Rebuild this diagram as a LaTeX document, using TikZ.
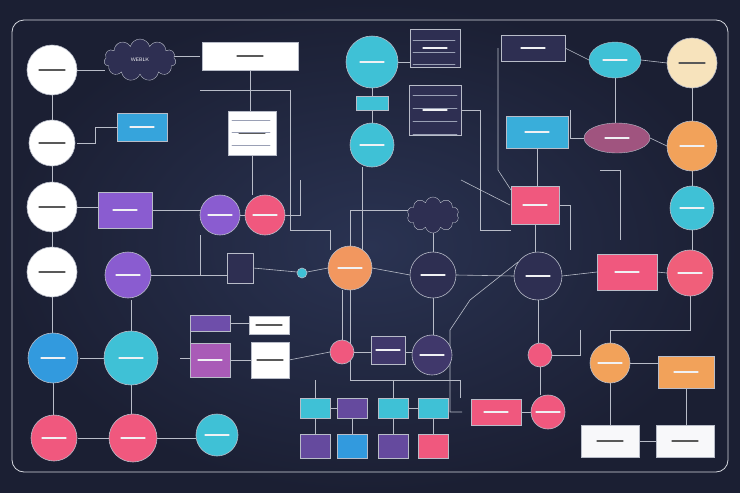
\documentclass[tikz,border=0pt]{standalone}
\usetikzlibrary{shapes.geometric,shapes.symbols,calc}
\definecolor{bg}{HTML}{1B1F33}
\definecolor{bgc}{HTML}{2A3352}
\definecolor{tl}{HTML}{3FC1D6}
\definecolor{pk}{HTML}{F0587E}
\definecolor{pu}{HTML}{8A5CD0}
\definecolor{dk}{HTML}{2E2F52}
\definecolor{og}{HTML}{F2A25A}
\definecolor{cr}{HTML}{F7E3BC}
\definecolor{mv}{HTML}{A0547F}
\definecolor{ln}{HTML}{B8BCC8}
\definecolor{tc}{HTML}{9AA0B5}
\begin{document}
\begin{tikzpicture}[x=1pt,y=-1pt,
 circ/.style={circle,draw=ln,line width=0.6pt,inner sep=0,minimum size=#1},
 box/.style={rectangle,draw=ln,line width=0.5pt,inner sep=0},
 cn/.style={draw=ln,line width=0.6pt},
 tb/.style={line width=1.2pt,line cap=round}]
\useasboundingbox (0,0) rectangle (740,493);
\fill[bg] (0,0) rectangle (740,493);
\fill[inner color=bgc,outer color=bg] (0,0) rectangle (740,493);
\draw[ln!60,line width=0.8pt,rounded corners=12] (12,20) rectangle (728,472);
% connectors (drawn first)
\begin{scope}[cn]
\draw (77,70)--(105,70); \draw (52,95)--(52,120); \draw (52,166)--(52,182);
\draw (52,232)--(52,247); \draw (52,297)--(52,333); \draw (53,383)--(53,415);
\draw (77,207)--(98,207); \draw (77,143)--(95,143)--(95,127)--(117,127);
\draw (152,210)--(200,210); \draw (151,275)--(200,275)--(200,235);
\draw (240,215)--(245,215); \draw (285,215)--(300,215)--(300,180);
\draw (250,70)--(250,111); \draw (200,56)--(160,56);
\draw (200,90)--(290,90)--(290,230)--(330,230)--(330,250);
\draw (252,155)--(252,195); \draw (80,358)--(104,358);
\draw (131,385)--(131,414); \draw (78,438)--(109,438); \draw (157,438)--(196,438);
\draw (131,331)--(131,300); \draw (180,358)--(190,358)--(190,323);
\draw (230,323)--(249,323); \draw (230,360)--(251,360);
\draw (289,360)--(330,352); \draw (170,275)--(228,275); \draw (253,268)--(297,272);
\draw (307,272)--(328,268);
\draw (372,88)--(372,96); \draw (372,110)--(372,123);
\draw (362,167)--(362,250); \draw (398,62)--(410,62);
\draw (350,246)--(350,210)--(408,210);
\draw (372,268)--(410,275); \draw (456,275)--(514,276);
\draw (433,233)--(433,252); \draw (433,298)--(433,335);
\draw (342,290)--(342,340); \draw (354,352)--(371,352); \draw (405,352)--(412,352);
\draw (350,290)--(350,380)--(460,380)--(460,398); \draw (315,380)--(315,398);
\draw (393,380)--(393,398); \draw (315,418)--(315,434); \draw (352,418)--(352,434);
\draw (393,418)--(393,434); \draw (433,418)--(433,434);
\draw (330,408)--(337,408); \draw (408,408)--(418,408);
\draw (461,110)--(480,110)--(480,230)--(511,230);
\draw (461,180)--(510,205); \draw (498,48)--(498,170)--(511,190);
\draw (538,300)--(538,343); \draw (552,355)--(580,355)--(580,330);
\draw (540,367)--(540,395); \draw (521,412)--(531,412);
\draw (462,412)--(450,412)--(450,330)--(470,300)--(518,262);
\draw (535,224)--(535,252); \draw (559,205)--(570,205)--(570,250);
\draw (537,148)--(537,186); \draw (565,48)--(589,60);
\draw (641,60)--(667,63); \draw (615,78)--(615,123);
\draw (650,138)--(667,146); \draw (692,88)--(692,121);
\draw (692,171)--(692,186); \draw (692,230)--(692,250);
\draw (562,276)--(597,272); \draw (657,272)--(667,273);
\draw (690,296)--(690,330)--(610,330)--(610,343);
\draw (630,363)--(658,363); \draw (610,383)--(610,425);
\draw (639,441)--(656,441); \draw (686,388)--(686,425);
\draw (600,170)--(620,170)--(620,240); \draw (584,138)--(570,138)--(570,110);
\end{scope}
% shapes
\node[circ=50,fill=white] (w1) at (52,70) {};
\node[circ=46,fill=white] (w2) at (52,143) {};
\node[circ=50,fill=white] (w3) at (52,207) {};
\node[circ=50,fill=white] (w4) at (52,272) {};
\node[cloud,cloud puffs=11,aspect=1.8,draw=ln,fill=dk,minimum width=72,minimum height=42,inner sep=0,text=white,font=\sffamily\tiny] (cl1) at (140,60) {WEBLK};
\node[box,fill=white,minimum width=96,minimum height=28] (r1) at (250,56) {};
\node[box,fill=tl!85!blue,minimum width=50,minimum height=28] (r2) at (142,127) {};
\node[box,fill=white,minimum width=48,minimum height=44] (r3) at (252,133) {};
\node[box,fill=pu,minimum width=54,minimum height=36] (r4) at (125,210) {};
\node[circ=46,fill=pu] (c1) at (128,275) {};
\node[circ=40,fill=pu] (c2) at (220,215) {};
\node[circ=40,fill=pk] (c3) at (265,215) {};
\node[circ=50,fill=tl!80!blue] (c4) at (53,358) {};
\node[circ=54,fill=tl] (c5) at (131,358) {};
\node[circ=46,fill=pk] (c6) at (54,438) {};
\node[circ=48,fill=pk] (c7) at (133,438) {};
\node[circ=42,fill=tl] (c8) at (217,435) {};
\node[box,fill=pu!70!dk,minimum width=40,minimum height=16] (r5) at (210,323) {};
\node[box,fill=white,minimum width=40,minimum height=18] (r6) at (269,325) {};
\node[box,fill=pu!70!pk,minimum width=40,minimum height=34] (r7) at (210,360) {};
\node[box,fill=white,minimum width=38,minimum height=36] (r8) at (270,360) {};
\node[box,fill=dk,minimum width=26,minimum height=30] (r9) at (240,268) {};
\node[circ=10,fill=tl] (c9) at (302,273) {};
\node[circ=44,fill=og!85!pk] (c10) at (350,268) {};
\node[circ=52,fill=tl] (c11) at (372,62) {};
\node[box,fill=tl,minimum width=32,minimum height=14] (r10) at (372,103) {};
\node[circ=44,fill=tl] (c12) at (372,145) {};
\node[box,fill=dk,minimum width=50,minimum height=38] (r11) at (435,48) {};
\node[box,fill=dk,minimum width=52,minimum height=50] (r12) at (435,110) {};
\node[cloud,cloud puffs=10,aspect=1.5,draw=ln,fill=dk,minimum width=52,minimum height=36,inner sep=0] (cl2) at (433,215) {};
\node[circ=46,fill=dk] (c13) at (433,275) {};
\node[circ=24,fill=pk] (c14) at (342,352) {};
\node[box,fill=dk!80!pu,minimum width=34,minimum height=28] (r13) at (388,350) {};
\node[circ=40,fill=dk!80!pu] (c15) at (432,355) {};
\foreach \x/\c [count=\i] in {315/tl,352/pu!60!dk,393/tl,433/tl}{
 \node[box,fill=\c,minimum width=30,minimum height=20] (t\i) at (\x,408) {};}
\foreach \x/\c [count=\i] in {315/pu!60!dk,352/tl!80!blue,393/pu!60!dk,433/pk}{
 \node[box,fill=\c,minimum width=30,minimum height=24] (b\i) at (\x,446) {};}
\node[box,fill=pk,minimum width=50,minimum height=26] (r14) at (496,412) {};
\node[circ=34,fill=pk] (c16) at (548,412) {};
\node[circ=24,fill=pk] (c17) at (540,355) {};
\node[circ=48,fill=dk] (c18) at (538,276) {};
\node[box,fill=pk,minimum width=48,minimum height=38] (r15) at (535,205) {};
\node[box,fill=tl!90!blue,minimum width=62,minimum height=32] (r16) at (537,132) {};
\node[box,fill=dk,minimum width=64,minimum height=26] (r17) at (533,48) {};
\node[ellipse,draw=ln,fill=tl,minimum width=52,minimum height=36,inner sep=0] (e1) at (615,60) {};
\node[ellipse,draw=ln,fill=mv,minimum width=66,minimum height=30,inner sep=0] (e2) at (617,138) {};
\node[circ=50,fill=cr] (c19) at (692,63) {};
\node[circ=50,fill=og] (c20) at (692,146) {};
\node[circ=44,fill=tl] (c21) at (692,208) {};
\node[box,fill=pk,minimum width=60,minimum height=36] (r18) at (627,272) {};
\node[circ=46,fill=pk!90!og] (c22) at (690,273) {};
\node[circ=40,fill=og] (c23) at (610,363) {};
\node[box,fill=og,minimum width=56,minimum height=32] (r19) at (686,372) {};
\node[box,fill=white!90!ln,minimum width=58,minimum height=32] (r20) at (610,441) {};
\node[box,fill=white!90!ln,minimum width=58,minimum height=32] (r21) at (685,441) {};
% text bars
\foreach \n in {w1,w2,w3,w4,r1,r3,r6,r8,r20,r21,c19}{\draw[tb,gray!70!black] ($(\n)+(-13,0)$)--++(26,0);}
\foreach \n in {r2,r4,c1,c2,c3,c4,c5,c6,c7,c8,c10,c11,c12,r11,r12,c13,r14,c16,r15,r16,r17,e1,e2,c18,c20,c21,r18,c22,c23,r19,r7,c15,r13}{\draw[tb,white!85!tc] ($(\n)+(-12,0)$)--++(24,0);}
\foreach \y in {40,52,64}{\draw[tb,tc,line width=0.7pt] (413,\y)--(455,\y);}
\foreach \y in {95,108,121,134}{\draw[tb,tc,line width=0.7pt] (413,\y)--(457,\y);}
\foreach \y in {120,132,145}{\draw[tb,tc,line width=0.7pt] (232,\y)--(270,\y);}
\end{tikzpicture}
\end{document}
